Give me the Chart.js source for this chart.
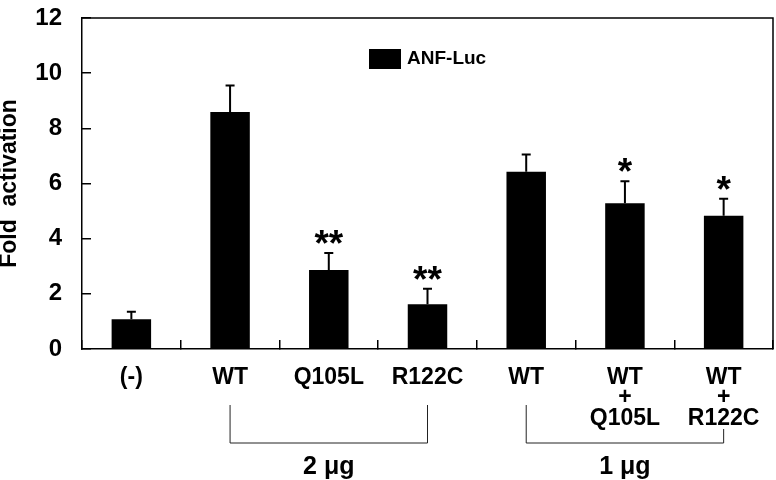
<!DOCTYPE html>
<html lang="en">
<head>
  <meta charset="UTF-8">
  <title>Fold activation</title>
  <style>
    body { margin: 0; background: #fff; }
    #wrap { width: 776px; height: 480px; }
  </style>
</head>
<body>
<div id="wrap"><canvas id="barChart"></canvas></div>
<script src="https://cdn.jsdelivr.net/npm/chart.js"></script>
<script>
  const categories = ['(-)', 'WT', 'Q105L', 'R122C', 'WT', ['WT', '+', 'Q105L'], ['WT', '+', 'R122C']];
  const activation = [1.08, 8.59, 2.86, 1.62, 6.43, 5.28, 4.83];
  const errors = [0.27, 0.96, 0.62, 0.56, 0.62, 0.80, 0.62];
  const marks = ['', '', '**', '**', '', '*', '*'];
  const yTicks = [0, 2, 4, 6, 8, 10, 12];
  const groups = [
    { label: '2 μg', from: 1, to: 3 },
    { label: '1 μg', from: 4, to: 6 }
  ];

  const FONT = "'Liberation Sans', Arial, sans-serif";

  // error bars, asterisks, frame, legend and the dose brackets
  const extras = {
    id: 'extras',
    afterDatasetsDraw(chart) {
      const ctx = chart.ctx;
      const y = chart.scales.y;
      const x = chart.scales.x;
      const area = chart.chartArea;
      const meta = chart.getDatasetMeta(0);
      ctx.save();
      ctx.strokeStyle = '#000';
      ctx.fillStyle = '#000';

      meta.data.forEach((bar, i) => {
        const top = y.getPixelForValue(activation[i] + errors[i]);
        ctx.lineWidth = 2;
        ctx.beginPath();
        ctx.moveTo(bar.x, bar.y);
        ctx.lineTo(bar.x, top);
        ctx.moveTo(bar.x - 4.5, top);
        ctx.lineTo(bar.x + 4.5, top);
        ctx.stroke();
        if (marks[i]) {
          ctx.font = 'bold 37px ' + FONT;
          ctx.textAlign = 'center';
          ctx.textBaseline = 'alphabetic';
          ctx.fillText(marks[i], bar.x, top - 18 + 21);
        }
      });

      // top and right frame
      ctx.lineWidth = 1.5;
      ctx.beginPath();
      ctx.moveTo(area.left, area.top);
      ctx.lineTo(area.right, area.top);
      ctx.lineTo(area.right, area.bottom);
      ctx.stroke();

      // legend
      const ds = chart.data.datasets[0];
      const lx = area.left + 287;
      const ly = area.top + 31;
      ctx.fillStyle = ds.backgroundColor;
      ctx.fillRect(lx, ly, 32, 20);
      ctx.fillStyle = '#000';
      ctx.font = 'bold 19px ' + FONT;
      ctx.textAlign = 'left';
      ctx.textBaseline = 'middle';
      ctx.fillText(ds.label, lx + 38, ly + 10);

      // brackets under the category labels
      ctx.lineWidth = 1;
      ctx.strokeStyle = '#222';
      const base = area.bottom + 94;
      groups.forEach(g => {
        const x1 = x.getPixelForValue(g.from);
        const x2 = x.getPixelForValue(g.to);
        const lines = i => Array.isArray(categories[i]) ? categories[i].length : 1;
        const t1 = area.bottom + 56 + (lines(g.from) - 1) * 12;
        const t2 = area.bottom + 56 + (lines(g.to) - 1) * 12;
        ctx.beginPath();
        ctx.moveTo(x1, t1);
        ctx.lineTo(x1, base);
        ctx.lineTo(x2, base);
        ctx.lineTo(x2, t2);
        ctx.stroke();
        ctx.font = 'bold 25px ' + FONT;
        ctx.textAlign = 'center';
        ctx.textBaseline = 'middle';
        ctx.fillText(g.label, (x1 + x2) / 2, area.bottom + 118);
      });
      ctx.restore();
    }
  };

  const ctx = document.getElementById('barChart').getContext('2d');
  const barChart = new Chart(ctx, {
    type: 'bar',
    data: {
      labels: categories,
      datasets: [{
        label: 'ANF-Luc',
        data: activation,
        backgroundColor: '#000',
        borderWidth: 0,
        barPercentage: 0.4,
        categoryPercentage: 1.0
      }]
    },
    options: {
      responsive: true,
      maintainAspectRatio: false,
      animation: false,
      layout: { padding: { top: 18, right: 3, left: 0, bottom: 0 } },
      plugins: {
        legend: { display: false },
        tooltip: { enabled: false }
      },
      scales: {
        x: {
          grid: { offset: true, drawOnChartArea: false, drawTicks: true, tickLength: -9, color: '#000', lineWidth: 1.5 },
          border: { display: true, color: '#000', width: 1.5 },
          ticks: {
            color: '#000',
            autoSkip: false,
            maxRotation: 0,
            padding: 27,
            font: { family: FONT, size: 23, weight: 'bold', lineHeight: 0.9 }
          },
          afterFit: s => {
            s.height = 131;
            s.paddingLeft = 0;
            s.paddingRight = 0;
          }
        },
        y: {
          min: 0,
          max: 12,
          afterBuildTicks: s => { s.ticks = yTicks.map(v => ({ value: v })); },
          grid: { drawOnChartArea: false, drawTicks: true, tickLength: -9, color: '#000', lineWidth: 1.5 },
          border: { display: true, color: '#000', width: 1.5 },
          ticks: {
            color: '#000',
            padding: 29,
            font: { family: FONT, size: 24, weight: 'bold' }
          },
          title: {
            display: true,
            text: 'Fold  activation',
            color: '#000',
            padding: 0,
            font: { family: FONT, size: 23, weight: 'bold', lineHeight: 0.85 }
          },
          afterFit: s => {
            s.width = 82;
            s.paddingTop = 0;
            s.paddingBottom = 0;
          }
        }
      }
    },
    plugins: [extras]
  });
</script>
</body>
</html>
